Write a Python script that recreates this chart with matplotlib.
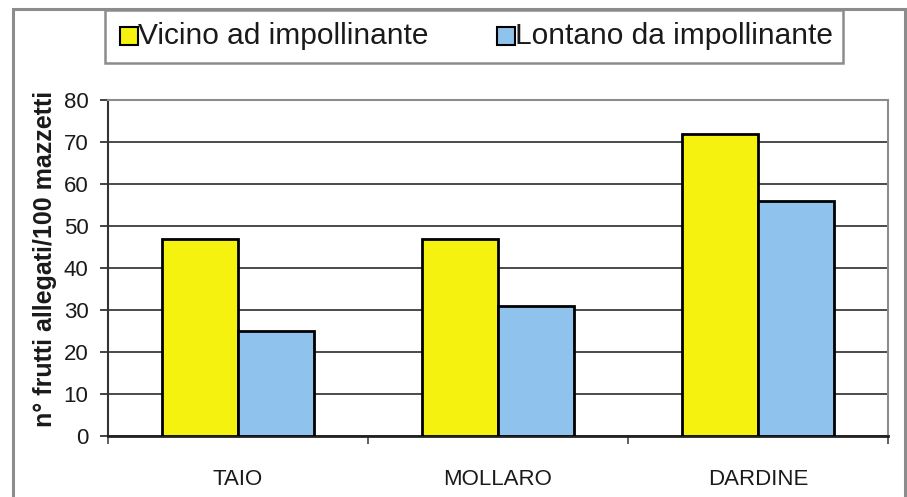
import matplotlib
matplotlib.use("Agg")
import matplotlib.pyplot as plt
import numpy as np
from matplotlib.patches import Rectangle

plt.rcParams["font.family"] = ["Liberation Sans", "DejaVu Sans"]

categories = ["TAIO", "MOLLARO", "DARDINE"]
series_names = ["Vicino ad impollinante", "Lontano da impollinante"]
vicino = [47, 47, 72]
lontano = [25, 31, 56]
y_ticks = [0, 10, 20, 30, 40, 50, 60, 70, 80]

YELLOW = "#F4F20E"
BLUE = "#8FC3EE"
W, H = 907, 497


def fx(px):
    return px / W


def fy(py):
    return 1 - py / H


fig = plt.figure(figsize=(9.07, 4.97), dpi=100)
fig.patch.set_facecolor("white")

# outer frame (bottom cut off)
fig.add_artist(Rectangle((fx(13), fy(510)), fx(905) - fx(13), fy(9) - fy(510),
                         transform=fig.transFigure, fill=False, ec="#8c8c8c", lw=2.2))

ax = fig.add_axes([fx(108), fy(436), fx(888) - fx(108), fy(100) - fy(436)])
x = np.arange(len(categories))
bw = 0.292
ax.bar(x - bw / 2, vicino, bw, color=YELLOW, edgecolor="black", lw=2, zorder=3)
ax.bar(x + bw / 2, lontano, bw, color=BLUE, edgecolor="black", lw=2, zorder=3)

ax.set_xlim(-0.5, len(categories) - 0.5)
ax.set_ylim(0, 80)
ax.set_yticks(y_ticks)
ax.set_yticklabels([str(v) for v in y_ticks], fontsize=16, color="#1a1a1a")
ax.yaxis.grid(True, color="#4a4a4a", lw=1.4, zorder=1)
ax.tick_params(axis="y", direction="out", length=6, width=1.3, pad=8, color="#333333")

ax.set_xticks(x)
ax.set_xticklabels(categories, fontsize=16, color="#1a1a1a")
ax.tick_params(axis="x", which="major", length=0, pad=24)
ax.set_xticks(np.arange(-0.5, len(categories), 1.0), minor=True)
ax.tick_params(axis="x", which="minor", direction="out", length=6, width=1.2, color="#444444")

for side in ("top", "right"):
    ax.spines[side].set_color("#8c8c8c")
    ax.spines[side].set_linewidth(1.5)
ax.spines["left"].set_color("#333333")
ax.spines["left"].set_linewidth(1.5)
ax.spines["bottom"].set_color("#222222")
ax.spines["bottom"].set_linewidth(2)

fig.text(fx(45), fy(259), "n° frutti allegati/100 mazzetti", rotation=90,
         ha="center", va="center", fontsize=18, fontweight="bold", color="#1a1a1a")

# legend box
fig.add_artist(Rectangle((fx(105), fy(63)), fx(843) - fx(105), fy(10) - fy(63),
                         transform=fig.transFigure, fc="white", ec="#8c8c8c", lw=1.8))
leg_x = [120, 497]
for name, col, lx in zip(series_names, [YELLOW, BLUE], leg_x):
    fig.add_artist(Rectangle((fx(lx), fy(45)), fx(18), fy(27) - fy(45),
                             transform=fig.transFigure, fc=col, ec="black", lw=1.5))
    fig.text(fx(lx + 18), fy(36), name, ha="left", va="center", fontsize=21.5, color="#1a1a1a")

fig.savefig("out.png", dpi=100, facecolor="white")
